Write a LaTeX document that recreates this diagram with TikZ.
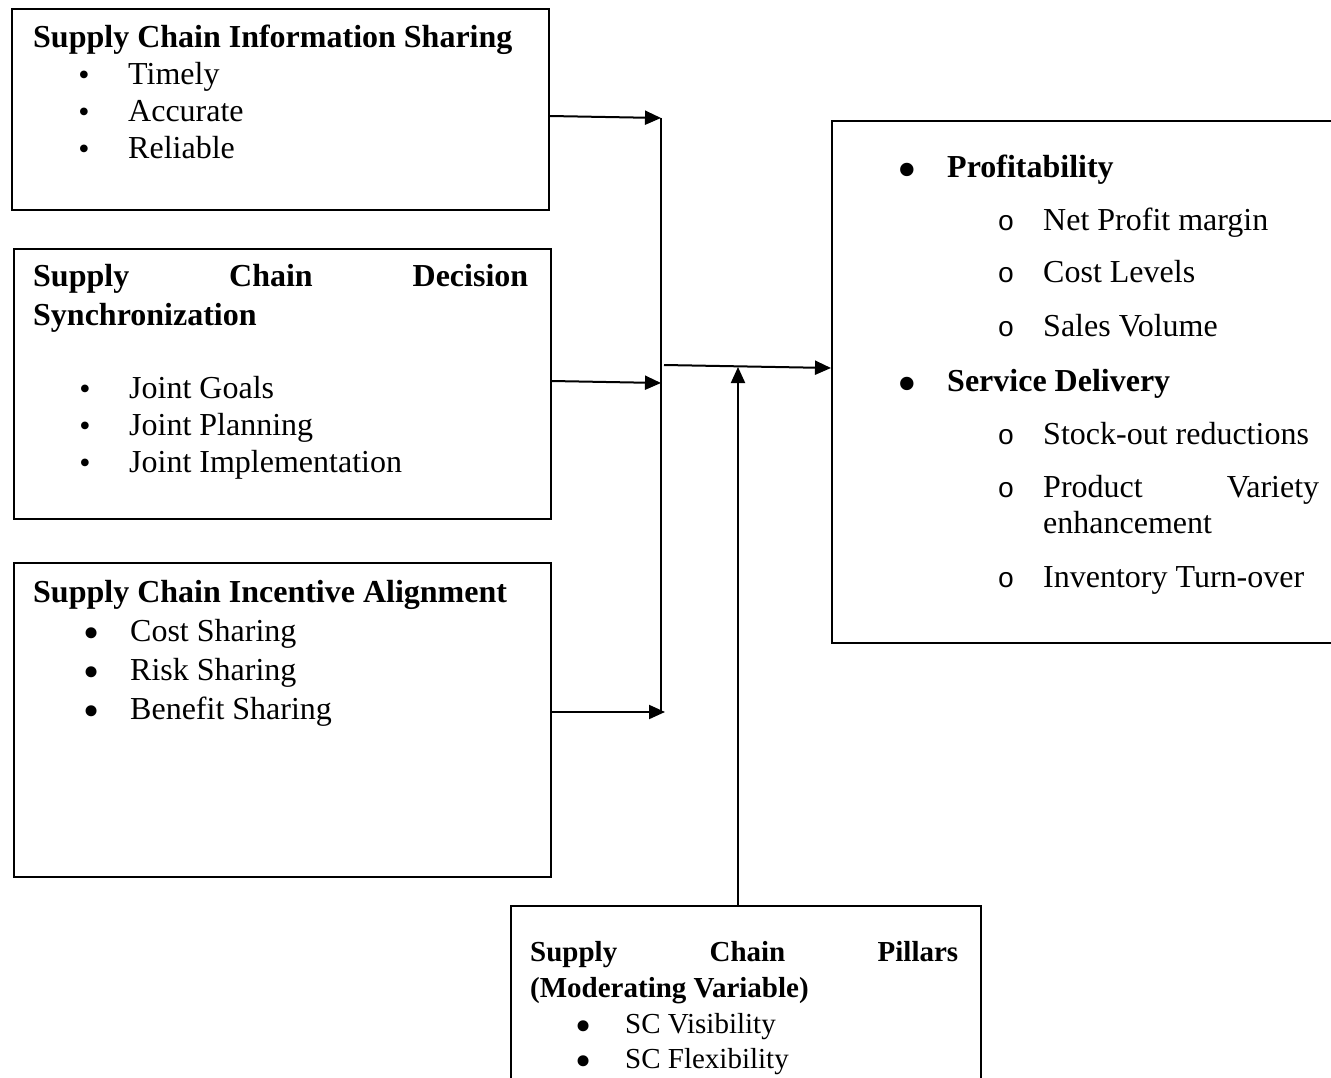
\documentclass[tikz,border=0pt]{standalone}
\usepackage{fontspec}
\setmainfont{Liberation Serif}
\newfontfamily\ringfont{Liberation Mono}
\usetikzlibrary{arrows.meta}
\begin{document}
\begin{tikzpicture}[x=1pt,y=-1pt,
  box/.style={draw,line width=1.6pt,anchor=north west,inner sep=0pt},
  txt/.style={anchor=base west,inner sep=0pt,font=\fontsize{32}{37}\selectfont},
  smalltxt/.style={anchor=base west,inner sep=0pt,font=\fontsize{29}{36}\selectfont},
  dotsm/.style={anchor=base,inner sep=0pt,font=\fontsize{32}{32}\selectfont},
  dotmid/.style={anchor=base,inner sep=0pt,font=\fontsize{46}{46}\selectfont},
  dotbig/.style={anchor=base,inner sep=0pt,font=\fontsize{56}{56}\selectfont},
  ring/.style={anchor=base,inner sep=0pt,font=\ringfont\fontsize{28}{28}\selectfont},
  arr/.style={line width=2pt,-{Triangle[length=16pt,width=14pt]}},
  link/.style={line width=2pt}]
\useasboundingbox (0,0) rectangle (1331,1078);

% ---------- left column boxes ----------
\node[box,minimum width=537pt,minimum height=201pt] (info) at (11,8) {};
\node[box,minimum width=537pt,minimum height=270pt] (sync) at (13,248) {};
\node[box,minimum width=537pt,minimum height=314pt] (inc) at (13,562) {};

% Information sharing
\node[txt] (info-t) at (33,48) {\bfseries Supply Chain Information Sharing};
\node[dotsm] (info-d1) at (84,86) {•};
\node[dotsm] (info-d2) at (84,123) {•};
\node[dotsm] (info-d3) at (84,160) {•};
\node[txt] (info-1) at (128,85) {Timely};
\node[txt] (info-2) at (128,122) {Accurate};
\node[txt] (info-3) at (128,159) {Reliable};

% Decision synchronization
\node[txt] (sync-t1) at (33,287) {\hbox to 495pt{\bfseries Supply\hfill Chain\hfill Decision}};
\node[txt] (sync-t2) at (33,325) {\bfseries Synchronization};
\node[dotsm] (sync-d1) at (85,399) {•};
\node[dotsm] (sync-d2) at (85,436) {•};
\node[dotsm] (sync-d3) at (85,473) {•};
\node[txt] (sync-1) at (129,398) {Joint Goals};
\node[txt] (sync-2) at (129,435) {Joint Planning};
\node[txt] (sync-3) at (129,472) {Joint Implementation};

% Incentive alignment
\node[txt] (inc-t) at (33,602) {\bfseries Supply Chain Incentive Alignment};
\node[dotmid] (inc-d1) at (92,648) {•};
\node[dotmid] (inc-d2) at (92,687) {•};
\node[dotmid] (inc-d3) at (92,726) {•};
\node[txt] (inc-1) at (130,641) {Cost Sharing};
\node[txt] (inc-2) at (130,680) {Risk Sharing};
\node[txt] (inc-3) at (130,719) {Benefit Sharing};

% ---------- outcome box ----------
\node[box,minimum width=520pt,minimum height=522pt] (out) at (831,120) {};
\node[dotbig] (out-d1) at (907,189) {•};
\node[txt] (out-a) at (947,178) {\bfseries Profitability};
\node[ring] (out-o1) at (1006,231) {o};
\node[ring] (out-o2) at (1006,283) {o};
\node[ring] (out-o3) at (1006,336) {o};
\node[txt] (out-a1) at (1043,231) {Net Profit margin};
\node[txt] (out-a2) at (1043,283) {Cost Levels};
\node[txt] (out-a3) at (1043,336) {Sales Volume};
\node[dotbig] (out-d2) at (907,402) {•};
\node[txt] (out-b) at (947,391) {\bfseries Service Delivery};
\node[ring] (out-o4) at (1006,444) {o};
\node[ring] (out-o5) at (1006,497) {o};
\node[ring] (out-o6) at (1006,587) {o};
\node[txt] (out-b1) at (1043,444) {Stock-out reductions};
\node[txt] (out-b2) at (1043,497) {\hbox to 276pt{Product\hfill Variety}};
\node[txt] (out-b2b) at (1043,533) {enhancement};
\node[txt] (out-b3) at (1043,587) {Inventory Turn-over};

% ---------- moderating box ----------
\node[box,minimum width=470pt,minimum height=200pt] (pil) at (510,905) {};
\node[smalltxt] (pil-t1) at (530,961) {\hbox to 428pt{\bfseries Supply\hfill Chain\hfill Pillars}};
\node[smalltxt] (pil-t2) at (530,997) {\bfseries (Moderating Variable)};
\node[dotmid] (pil-d1) at (584,1041) {•};
\node[dotmid] (pil-d2) at (584,1076) {•};
\node[smalltxt] (pil-1) at (625,1033) {SC Visibility};
\node[smalltxt] (pil-2) at (625,1068) {SC Flexibility};

% ---------- connectors ----------
\coordinate (jtop) at (661,118);
\coordinate (jmid) at (661,383);
\coordinate (jbot) at (665,712);
\coordinate (jout) at (664,365);
\coordinate (jmod) at (738,367);

\draw[link] (jtop) -- (661,712);
\draw[arr] (info.east |- 0,116) -- (jtop);
\draw[arr] (sync.east |- 0,381) -- (jmid);
\draw[arr] (inc.east |- 0,712) -- (jbot);
\draw[arr] (jout) -- (out.west |- 0,368);
\draw[arr] (pil.north -| jmod) -- (jmod);
\end{tikzpicture}
\end{document}
